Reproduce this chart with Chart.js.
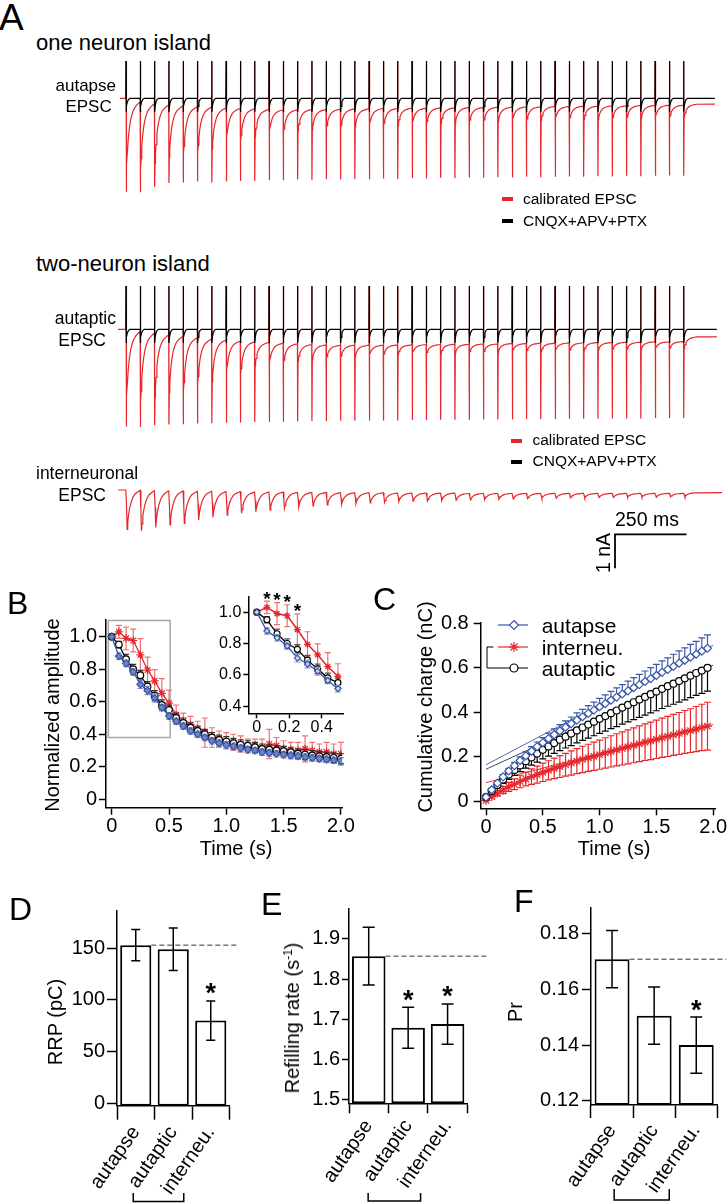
<!DOCTYPE html>
<html>
<head>
<meta charset="utf-8">
<title>Autaptic vs interneuronal EPSC trains</title>
<script src="https://cdn.jsdelivr.net/npm/chart.js@4.4.1/dist/chart.umd.min.js"></script>
<style>
  html, body { margin:0; padding:0; background:#fff; }
  body { position:relative; width:728px; height:1204px; overflow:hidden; font-family:"Liberation Sans", Arial, Helvetica, sans-serif; color:#000; }
  canvas { position:absolute; }
  .txt { position:absolute; white-space:nowrap; line-height:1; }
  .dash { position:absolute; }
</style>
</head>
<body>
<script>
// ======================= DATA =======================
// ---- Panel A: EPSC trains, 40 stimuli at 20 Hz (current in nA) ----
const stimIntervalMs = 50;
const scaleBarMs = 250;
const scaleBarNa = 1;

// one-neuron island, autapse
const autapseArtifactTop = 1.10;
const autapseBlackDip = -0.40;
const autapsePre = [0,-0.11,-0.17,-0.20,-0.23,-0.25,-0.26,-0.29,-0.30,-0.31,-0.33,-0.34,-0.34,-0.33,-0.33,-0.32,-0.31,-0.31,-0.30,-0.30,-0.29,-0.29,-0.28,-0.28,-0.27,-0.27,-0.26,-0.26,-0.25,-0.25,-0.24,-0.24,-0.23,-0.23,-0.22,-0.22,-0.21,-0.21,-0.20,-0.20,-0.17];
const autapseTrough = [-2.26,-2.06,-1.91,-1.72,-1.62,-1.57,-1.47,-1.26,-1.23,-1.13,-1.03,-0.99,-0.95,-0.92,-0.88,-0.86,-0.84,-0.82,-0.80,-0.79,-0.77,-0.75,-0.74,-0.72,-0.70,-0.69,-0.68,-0.67,-0.66,-0.64,-0.63,-0.62,-0.62,-0.61,-0.61,-0.60,-0.58,-0.57,-0.56,-0.55];
const autapseArtifactBottom = [-2.75,-2.76,-2.61,-2.49,-2.48,-2.45,-2.48,-2.45,-2.43,-2.43,-2.40,-2.41,-2.39,-2.40,-2.38,-2.39,-2.37,-2.38,-2.36,-2.37,-2.35,-2.36,-2.34,-2.35,-2.33,-2.34,-2.32,-2.33,-2.31,-2.32,-2.31,-2.30,-2.31,-2.29,-2.30,-2.28,-2.29,-2.28,-2.27,-2.28];

// two-neuron island, autaptic
const autapticArtifactTop = 1.27;
const autapticBlackDip = -0.40;
const autapticPre = [0,-0.07,-0.12,-0.17,-0.21,-0.25,-0.29,-0.32,-0.35,-0.37,-0.39,-0.41,-0.43,-0.45,-0.46,-0.47,-0.47,-0.47,-0.47,-0.46,-0.46,-0.45,-0.45,-0.44,-0.44,-0.43,-0.43,-0.42,-0.42,-0.41,-0.41,-0.40,-0.40,-0.39,-0.39,-0.38,-0.38,-0.37,-0.37,-0.36,-0.22];
const autapticTrough = [-2.28,-2.13,-2.00,-1.86,-1.80,-1.57,-1.54,-1.34,-1.29,-1.08,-1.03,-0.98,-0.94,-0.90,-0.86,-0.83,-0.80,-0.78,-0.76,-0.74,-0.73,-0.72,-0.71,-0.70,-0.69,-0.68,-0.67,-0.67,-0.66,-0.66,-0.65,-0.64,-0.63,-0.62,-0.61,-0.60,-0.59,-0.58,-0.57,-0.56];
const autapticArtifactBottom = [-2.86,-2.87,-2.82,-2.80,-2.79,-2.77,-2.76,-2.75,-2.74,-2.73,-2.72,-2.72,-2.71,-2.70,-2.70,-2.69,-2.69,-2.68,-2.68,-2.68,-2.67,-2.67,-2.66,-2.66,-2.66,-2.65,-2.65,-2.65,-2.64,-2.64,-2.64,-2.63,-2.63,-2.63,-2.62,-2.62,-2.62,-2.61,-2.61,-2.61];

// two-neuron island, interneuronal
const interPre = [0,-0.01,-0.02,-0.03,-0.03,-0.04,-0.04,-0.05,-0.05,-0.06,-0.06,-0.06,-0.07,-0.07,-0.07,-0.08,-0.08,-0.08,-0.08,-0.09,-0.09,-0.09,-0.09,-0.09,-0.10,-0.10,-0.10,-0.10,-0.10,-0.10,-0.10,-0.10,-0.10,-0.10,-0.10,-0.10,-0.10,-0.10,-0.10,-0.10,-0.08];
const interTrough = [-1.16,-1.20,-1.10,-1.03,-0.98,-0.88,-0.80,-0.74,-0.68,-0.64,-0.59,-0.54,-0.50,-0.47,-0.44,-0.42,-0.40,-0.38,-0.36,-0.34,-0.33,-0.32,-0.31,-0.30,-0.29,-0.28,-0.27,-0.26,-0.25,-0.24,-0.24,-0.23,-0.23,-0.22,-0.22,-0.21,-0.21,-0.21,-0.20,-0.20];

// EPSC waveform: [ms after stimulus, fraction of peak]
const epscDecayShape = [[1.5,1],[3,0.85],[5,0.68],[8,0.5],[12,0.35],[16,0.25],[20,0.18],[26,0.11],[32,0.07],[38,0.04],[44,0.015]];
const interEpscShape = [[2,0.45],[4,1],[6,0.82],[9,0.62],[13,0.45],[18,0.3],[24,0.18],[31,0.1],[39,0.05],[46,0.015]];
const blackDipShape = [[2,0.6],[5,0.25],[9,0.08],[14,0]];

// ---- Panel B: normalized amplitude ----
const bTimeStep = 0.0625;
const bAutapse   = [1.0,0.88,0.836,0.784,0.707,0.669,0.623,0.564,0.512,0.48,0.45,0.42,0.40,0.38,0.36,0.345,0.335,0.325,0.315,0.305,0.30,0.29,0.285,0.28,0.275,0.27,0.265,0.26,0.255,0.25,0.245,0.24,0.235];
const bAutapseErr = [0,0.02,0.02,0.02,0.025,0.025,0.025,0.02,0.02,0.02,0.02,0.02,0.02,0.02,0.02,0.02,0.02,0.02,0.02,0.02,0.02,0.02,0.02,0.02,0.02,0.02,0.02,0.02,0.02,0.02,0.02,0.02,0.02];
const bAutaptic  = [1.0,0.952,0.862,0.80,0.763,0.694,0.638,0.581,0.55,0.50,0.47,0.44,0.42,0.40,0.38,0.365,0.355,0.345,0.335,0.33,0.32,0.31,0.305,0.30,0.295,0.29,0.28,0.275,0.27,0.265,0.26,0.255,0.25];
const bAutapticErr = [0,0.02,0.03,0.03,0.03,0.03,0.03,0.03,0.03,0.03,0.03,0.03,0.03,0.03,0.03,0.03,0.03,0.03,0.03,0.03,0.03,0.03,0.03,0.03,0.03,0.03,0.03,0.03,0.03,0.03,0.03,0.03,0.03];
const bInterneu  = [1.0,1.03,0.99,0.977,0.889,0.795,0.728,0.652,0.591,0.52,0.48,0.46,0.43,0.41,0.38,0.37,0.36,0.35,0.34,0.33,0.33,0.32,0.34,0.33,0.31,0.30,0.30,0.31,0.30,0.29,0.29,0.28,0.28];
const bInterneuErr = [0,0.04,0.07,0.07,0.10,0.08,0.07,0.09,0.08,0.06,0.05,0.05,0.05,0.09,0.06,0.05,0.05,0.05,0.05,0.04,0.04,0.05,0.09,0.05,0.05,0.05,0.05,0.08,0.05,0.05,0.06,0.06,0.07];
const bInsetCount = 9;               // points shown in the inset (0-0.5 s)
const bInsetSignificant = [1,2,3,4]; // indices marked with *
const bZoomBoxTime = [-0.03, 0.51];
const bZoomBoxAmp = [0.38, 1.10];
const bXTicks = [0,0.5,1,1.5,2];       const bXTickLabels = ['0','0.5','1.0','1.5','2.0'];
const bYTicks = [0,0.2,0.4,0.6,0.8,1]; const bYTickLabels = ['0','0.2','0.4','0.6','0.8','1.0'];
const bInsetXTicks = [0,0.2,0.4];      const bInsetXTickLabels = ['0','0.2','0.4'];
const bInsetYTicks = [0.4,0.6,0.8,1];  const bInsetYTickLabels = ['0.4','0.6','0.8','1.0'];

// ---- Panel C: cumulative charge (nC) ----
const cTimeStep = 0.05;
const cAutapse  = [0.020,0.053,0.083,0.111,0.137,0.161,0.184,0.205,0.226,0.246,0.264,0.282,0.300,0.317,0.333,0.349,0.365,0.380,0.395,0.410,0.425,0.439,0.454,0.468,0.482,0.496,0.510,0.524,0.538,0.551,0.565,0.579,0.592,0.606,0.620,0.633,0.647,0.660,0.674,0.687];
const cAutapseErr = [0.002,0.005,0.007,0.010,0.012,0.014,0.016,0.018,0.020,0.021,0.023,0.025,0.026,0.028,0.029,0.030,0.032,0.033,0.035,0.036,0.037,0.039,0.040,0.041,0.042,0.044,0.045,0.046,0.047,0.049,0.050,0.051,0.052,0.054,0.055,0.056,0.057,0.058,0.059,0.060];
const cAutaptic = [0.020,0.048,0.074,0.099,0.121,0.142,0.162,0.181,0.198,0.215,0.232,0.247,0.262,0.277,0.291,0.305,0.319,0.332,0.345,0.358,0.371,0.383,0.396,0.408,0.421,0.433,0.445,0.457,0.469,0.481,0.493,0.505,0.517,0.528,0.540,0.552,0.564,0.576,0.587,0.599];
const cAutapticErr = [0.004,0.009,0.013,0.017,0.021,0.025,0.028,0.031,0.035,0.038,0.041,0.043,0.046,0.049,0.051,0.054,0.056,0.058,0.061,0.063,0.065,0.067,0.069,0.072,0.074,0.076,0.078,0.080,0.082,0.084,0.086,0.088,0.090,0.092,0.094,0.096,0.098,0.100,0.102,0.104];
const cInterneu = [0.005,0.022,0.038,0.052,0.066,0.078,0.090,0.101,0.112,0.121,0.131,0.140,0.149,0.157,0.165,0.173,0.181,0.189,0.196,0.203,0.210,0.218,0.225,0.232,0.238,0.245,0.252,0.259,0.266,0.272,0.279,0.286,0.292,0.299,0.305,0.312,0.318,0.325,0.332,0.338];
const cInterneuErr = [0.002,0.007,0.012,0.016,0.020,0.024,0.028,0.031,0.035,0.038,0.041,0.043,0.046,0.049,0.051,0.054,0.056,0.059,0.061,0.063,0.065,0.068,0.070,0.072,0.074,0.076,0.078,0.080,0.082,0.084,0.086,0.088,0.090,0.092,0.094,0.096,0.098,0.101,0.104,0.107];
const cFitIntercept = {autapse:0.165, autaptic:0.145, interneu:0.085};
const cFitSlope     = {autapse:0.268, autaptic:0.233, interneu:0.130};
const cXTicks = [0,0.5,1,1.5,2];       const cXTickLabels = ['0','0.5','1.0','1.5','2.0'];
const cYTicks = [0,0.2,0.4,0.6,0.8];   const cYTickLabels = ['0','0.2','0.4','0.6','0.8'];
const cLegendLabels = ['autapse','interneu.','autaptic'];

// ---- Panels D-F: bar summaries ----
const barCategories = ['autapse','autaptic','interneu.'];
const rrpValues = [153,149,80];          const rrpErr = [15,20.5,19];        const rrpSig = [false,false,true];
const refillValues = [1.857,1.679,1.688];const refillErr = [0.072,0.051,0.05];const refillSig = [false,true,true];
const prValues = [0.1709,0.1506,0.1400]; const prErr = [0.0103,0.0103,0.0101];const prSig = [false,false,true];
const rrpTicks = [0,50,100,150];          const rrpTickLabels = ['0','50','100','150'];
const refillTicks = [1.5,1.6,1.7,1.8,1.9];const refillTickLabels = ['1.5','1.6','1.7','1.8','1.9'];
const prTicks = [0.12,0.14,0.16,0.18];    const prTickLabels = ['0.12','0.14','0.16','0.18'];

// ======================= STYLE / LAYOUT =======================
const RED = '#e5262b', BLUE = '#3b58a8', BLACK = '#000';
const FONT = '"Liberation Sans", Arial, Helvetica, sans-serif';
Chart.defaults.font.family = FONT;
Chart.defaults.color = '#000';
const PX_PER_MS = 0.286, STIM0_X = 126, PX_PER_NA = 34;

function makeCanvas(id, left, top, w, h) {
  const c = document.createElement('canvas');
  c.id = id; c.width = w; c.height = h;
  c.style.left = left + 'px'; c.style.top = top + 'px';
  c.style.width = w + 'px'; c.style.height = h + 'px';
  document.body.appendChild(c);
  return c;
}
function xy(step, vals) { return vals.map((v, i) => ({x: i * step, y: v})); }

// ---- error bars ----
function drawErr(chart, meta, ds) {
  if (!ds.errUp && !ds.errDown) return;
  const ys = chart.scales[meta.yAxisID], ctx = chart.ctx;
  ctx.save();
  ctx.strokeStyle = ds.errColor || '#000';
  ctx.lineWidth = ds.errWidth || 1;
  meta.data.forEach((el, i) => {
    const raw = ds.data[i];
    const v = (raw !== null && typeof raw === 'object') ? raw.y : raw;
    const x = el.x, h = (ds.errCap || 6) / 2, y0 = ys.getPixelForValue(v);
    ctx.beginPath();
    if (ds.errUp && ds.errUp[i]) {
      const yt = ys.getPixelForValue(v + ds.errUp[i]);
      ctx.moveTo(x, y0); ctx.lineTo(x, yt); ctx.moveTo(x - h, yt); ctx.lineTo(x + h, yt);
    }
    if (ds.errDown && ds.errDown[i]) {
      const yb = ys.getPixelForValue(v - ds.errDown[i]);
      ctx.moveTo(x, y0); ctx.lineTo(x, yb); ctx.moveTo(x - h, yb); ctx.lineTo(x + h, yb);
    }
    ctx.stroke();
  });
  ctx.restore();
}
const errorBarPlugin = {
  id: 'errorBars',
  beforeDatasetDraw(chart, args) { const ds = chart.data.datasets[args.index]; if (!ds.errOnTop) drawErr(chart, args.meta, ds); },
  afterDatasetDraw(chart, args) { const ds = chart.data.datasets[args.index]; if (ds.errOnTop) drawErr(chart, args.meta, ds); }
};

function centeredStar(ctx, x, cy, font) {
  ctx.font = font;
  ctx.textAlign = 'center';
  ctx.textBaseline = 'alphabetic';
  const m = ctx.measureText('*');
  ctx.fillText('*', x, cy + (m.actualBoundingBoxAscent - m.actualBoundingBoxDescent) / 2);
}

function linAxis(o) {
  return {
    type: 'linear', min: o.min, max: o.max,
    afterBuildTicks: ax => { ax.ticks = o.ticks.map(v => ({value: v})); },
    afterFit: sc => { if (o.width !== undefined) sc.width = o.width; if (o.height !== undefined) sc.height = o.height; },
    ticks: {callback: (v, i) => o.labels[i], font: {size: o.fs, family: FONT}, color: '#000', padding: o.pad, autoSkip: false, maxRotation: 0, minRotation: 0},
    grid: {drawOnChartArea: false, drawTicks: true, tickLength: o.tl, tickWidth: 1.5, tickColor: '#000', color: '#000'},
    border: {display: true, color: '#000', width: 1.5}
  };
}
const baseOpts = {responsive: false, animation: false, events: [], plugins: {legend: {display: false}, tooltip: {enabled: false}}};

// ======================= PANEL A TRACES =======================
function buildRed(pre, trough, artBottom, artTop, shape, startMs, endMs) {
  const pts = [{x: startMs, y: pre[0]}];
  for (let i = 0; i < trough.length; i++) {
    const t = i * stimIntervalMs;
    pts.push({x: t - 0.6, y: pre[i]});
    if (artBottom) { pts.push({x: t, y: artTop}); pts.push({x: t + 0.3, y: artBottom[i]}); }
    for (const [dt, f] of shape) pts.push({x: t + dt, y: pre[i + 1] + (trough[i] - pre[i + 1]) * f});
  }
  pts.push({x: endMs, y: pre[pre.length - 1]});
  return pts;
}
function buildBlack(artTop, dip, n, startMs, endMs) {
  const pts = [{x: startMs, y: 0}];
  for (let i = 0; i < n; i++) {
    const t = i * stimIntervalMs;
    pts.push({x: t - 0.6, y: 0}, {x: t, y: artTop}, {x: t + 0.3, y: dip});
    for (const [dt, f] of blackDipShape) pts.push({x: t + dt, y: dip * f});
  }
  pts.push({x: endMs, y: 0});
  return pts;
}
function traceChart(id, left, top, w, h, baseY, datasets) {
  const c = makeCanvas(id, left, top, w, h);
  return new Chart(c, {
    type: 'line',
    data: {datasets},
    options: Object.assign({}, baseOpts, {
      layout: {padding: 0},
      elements: {point: {radius: 0}, line: {tension: 0}},
      scales: {
        x: {type: 'linear', display: false, min: (left - STIM0_X) / PX_PER_MS, max: (left + w - STIM0_X) / PX_PER_MS},
        y: {type: 'linear', display: false, min: (baseY - top - h) / PX_PER_NA, max: (baseY - top) / PX_PER_NA}
      }
    })
  });
}
const lineDs = (data, color, width, order) => ({data, borderColor: color, borderWidth: width, pointRadius: 0, fill: false, order});

traceChart('traceAutapse', 100, 55, 628, 145, 98.3, [
  lineDs(buildBlack(autapseArtifactTop, autapseBlackDip, autapseTrough.length, -0.6, 2059), BLACK, 1.2, 0),
  lineDs(buildRed(autapsePre, autapseTrough, autapseArtifactBottom, autapseArtifactTop, epscDecayShape, -21, 2059), RED, 1.2, 1)
]);
traceChart('traceAutaptic', 100, 278, 628, 160, 329.3, [
  lineDs(buildBlack(autapticArtifactTop, autapticBlackDip, autapticTrough.length, -0.6, 2066), BLACK, 1.2, 0),
  lineDs(buildRed(autapticPre, autapticTrough, autapticArtifactBottom, autapticArtifactTop, epscDecayShape, -28, 2066), RED, 1.2, 1)
]);
const sbT = (615 - STIM0_X) / PX_PER_MS, sbV = (490 - 534.3) / PX_PER_NA;
traceChart('traceInter', 100, 470, 628, 105, 490, [
  lineDs(buildRed(interPre, interTrough, null, 0, interEpscShape, -27, 2084), RED, 1.2, 1),
  lineDs([{x: sbT + scaleBarMs, y: sbV}, {x: sbT, y: sbV}, {x: sbT, y: sbV - scaleBarNa}], BLACK, 1.8, 0)
]);

// ======================= PANEL B =======================
const zoomBoxPlugin = {
  id: 'zoomBox',
  beforeDatasetsDraw(chart) {
    const xs = chart.scales.x, ys = chart.scales.y, ctx = chart.ctx;
    const x0 = xs.getPixelForValue(bZoomBoxTime[0]), x1 = xs.getPixelForValue(bZoomBoxTime[1]);
    const y0 = ys.getPixelForValue(bZoomBoxAmp[1]), y1 = ys.getPixelForValue(bZoomBoxAmp[0]);
    ctx.save(); ctx.strokeStyle = '#a8a8a8'; ctx.lineWidth = 1.5; ctx.strokeRect(x0, y0, x1 - x0, y1 - y0); ctx.restore();
  }
};
function bSeries(vals, err, color, errColor, style, radius, order, n, fill) {
  return {data: xy(bTimeStep, vals.slice(0, n)), borderColor: color, backgroundColor: fill, borderWidth: 1.3,
    pointStyle: style, pointRadius: radius, pointBorderWidth: 1.2, pointBorderColor: color, pointBackgroundColor: fill,
    errUp: err.slice(0, n), errDown: err.slice(0, n), errColor, errCap: 6, errWidth: 1.2, order};
}
new Chart(makeCanvas('chartB', 0, 585, 362, 265), {
  type: 'line',
  data: {datasets: [
    bSeries(bAutapse, bAutapseErr, BLUE, '#7d93cc', 'rectRot', 3.5, 0, bAutapse.length, '#6f84c6'),
    bSeries(bAutaptic, bAutapticErr, BLACK, '#333', 'circle', 3.3, 1, bAutaptic.length, '#fff'),
    bSeries(bInterneu, bInterneuErr, RED, '#f07070', 'star', 4, 2, bInterneu.length, '#fff')
  ]},
  options: Object.assign({}, baseOpts, {
    layout: {padding: {left: 0, top: 35, right: 19.9, bottom: 0}},
    scales: {
      x: linAxis({min: -0.05, max: 2.0105, ticks: bXTicks, labels: bXTickLabels, fs: 20, pad: 0, tl: 7, height: 42.3}),
      y: linAxis({min: -0.052, max: 1.103, ticks: bYTicks, labels: bYTickLabels, fs: 20, pad: 2, tl: 7, width: 106})
    }
  }),
  plugins: [errorBarPlugin, zoomBoxPlugin]
});

const insetStarPlugin = {
  id: 'insetStars',
  afterDatasetsDraw(chart) {
    const ctx = chart.ctx, xs = chart.scales.x, ys = chart.scales.y;
    ctx.save(); ctx.fillStyle = '#000';
    bInsetSignificant.forEach(i => {
      const top = ys.getPixelForValue(bInterneu[i] + bInterneuErr[i]);
      centeredStar(ctx, xs.getPixelForValue(i * bTimeStep), top - 6, 'bold 19px ' + FONT);
    });
    ctx.restore();
  }
};
new Chart(makeCanvas('chartBInset', 195, 585, 165, 160), {
  type: 'line',
  data: {datasets: [
    bSeries(bAutapse, bAutapseErr, BLUE, '#8a9dd2', 'rectRot', 3, 0, bInsetCount, '#c9d2ee'),
    bSeries(bAutaptic, bAutapticErr, BLACK, '#555', 'circle', 3, 1, bInsetCount, '#fff'),
    Object.assign(bSeries(bInterneu, bInterneuErr, RED, '#f07070', 'star', 3.5, 2, bInsetCount, '#fff'), {borderWidth: 1.5})
  ]},
  options: Object.assign({}, baseOpts, {
    layout: {padding: {left: 0, top: 10, right: 16.7, bottom: 0}},
    scales: {
      x: linAxis({min: -0.052, max: 0.533, ticks: bInsetXTicks, labels: bInsetXTickLabels, fs: 16, pad: 0, tl: 5, height: 31.7}),
      y: linAxis({min: 0.355, max: 1.099, ticks: bInsetYTicks, labels: bInsetYTickLabels, fs: 16, pad: 2, tl: 5, width: 53.3})
    }
  }),
  plugins: [errorBarPlugin, insetStarPlugin]
});

// ======================= PANEL C =======================
function drawMarker(ctx, style, x, y, r) {
  ctx.beginPath();
  if (style === 'rectRot') { ctx.moveTo(x, y - r); ctx.lineTo(x + r, y); ctx.lineTo(x, y + r); ctx.lineTo(x - r, y); ctx.closePath(); ctx.fill(); ctx.stroke(); }
  else if (style === 'circle') { ctx.arc(x, y, r, 0, Math.PI * 2); ctx.fill(); ctx.stroke(); }
  else { for (let k = 0; k < 4; k++) { const a = k * Math.PI / 4; ctx.moveTo(x - r * Math.cos(a), y - r * Math.sin(a)); ctx.lineTo(x + r * Math.cos(a), y + r * Math.sin(a)); } ctx.stroke(); }
}
const C_LEFT = 360, C_TOP = 585;
const cLegendPlugin = {
  id: 'cLegend',
  afterDraw(chart) {
    const ctx = chart.ctx;
    const rows = [
      {ds: 0, y: 625, x0: 498},
      {ds: 2, y: 647, x0: 498},
      {ds: 1, y: 668, x0: 493}
    ];
    ctx.save();
    rows.forEach(r => {
      const d = chart.data.datasets[r.ds];
      const y = r.y - C_TOP;
      ctx.strokeStyle = d.borderColor; ctx.fillStyle = '#fff'; ctx.lineWidth = 1.2;
      ctx.beginPath(); ctx.moveTo(r.x0 - C_LEFT, y); ctx.lineTo(528 - C_LEFT, y); ctx.stroke();
      drawMarker(ctx, d.pointStyle, 514 - C_LEFT, y, d.pointRadius + 0.5);
    });
    ctx.strokeStyle = '#000'; ctx.lineWidth = 1;
    ctx.beginPath();
    ctx.moveTo(493.5 - C_LEFT, 647 - C_TOP); ctx.lineTo(487 - C_LEFT, 647 - C_TOP);
    ctx.lineTo(487 - C_LEFT, 668 - C_TOP); ctx.lineTo(493 - C_LEFT, 668 - C_TOP);
    ctx.stroke();
    ctx.restore();
  }
};
function cSeries(vals, up, down, color, style, radius, order) {
  return {data: xy(cTimeStep, vals), borderColor: color, backgroundColor: '#fff', borderWidth: 1.2,
    pointStyle: style, pointRadius: radius, pointBorderWidth: 1.2, pointBorderColor: color, pointBackgroundColor: '#fff',
    errUp: up, errDown: down, errColor: color, errCap: 7, errWidth: 1.2, order};
}
function fitLine(key, color) {
  return {data: [{x: 0, y: cFitIntercept[key]}, {x: 2, y: cFitIntercept[key] + 2 * cFitSlope[key]}],
    borderColor: color, borderWidth: 0.9, pointRadius: 0, fill: false, order: 5};
}
new Chart(makeCanvas('chartC', C_LEFT, C_TOP, 380, 265), {
  type: 'line',
  data: {datasets: [
    cSeries(cAutapse, cAutapseErr, null, BLUE, 'rectRot', 4, 0),
    cSeries(cAutaptic, null, cAutapticErr, BLACK, 'circle', 3.5, 1),
    cSeries(cInterneu, cInterneuErr, cInterneuErr, RED, 'star', 4.5, 2),
    fitLine('autapse', BLUE), fitLine('autaptic', '#333'), fitLine('interneu', RED)
  ]},
  options: Object.assign({}, baseOpts, {
    layout: {padding: {left: 0, top: 38, right: 25, bottom: 0}},
    scales: {
      x: linAxis({min: -0.047, max: 2.016, ticks: cXTicks, labels: cXTickLabels, fs: 20, pad: 0, tl: 7, height: 41.7}),
      y: linAxis({min: -0.03, max: 0.8, ticks: cYTicks, labels: cYTickLabels, fs: 20, pad: 5, tl: 7, width: 120.7})
    }
  }),
  plugins: [errorBarPlugin, cLegendPlugin]
});

// ======================= PANELS D-F =======================
const barExtrasPlugin = {
  id: 'barExtras',
  afterDatasetsDraw(chart, args, o) {
    const ctx = chart.ctx, meta = chart.getDatasetMeta(0), ys = chart.scales.y, xs = chart.scales.x;
    const ds = chart.data.datasets[0];
    const b0 = meta.data[0], yRef = ys.getPixelForValue(ds.data[0]);
    ctx.save();
    ctx.strokeStyle = '#333'; ctx.lineWidth = 1; ctx.setLineDash([5, 3]);
    ctx.beginPath(); ctx.moveTo(b0.x + b0.width / 2, yRef); ctx.lineTo(chart.chartArea.right + o.refExtend, yRef); ctx.stroke();
    ctx.setLineDash([]);
    ctx.fillStyle = '#000';
    o.sig.forEach((s, i) => {
      if (!s) return;
      const top = ys.getPixelForValue(ds.data[i] + ds.errUp[i]);
      centeredStar(ctx, meta.data[i].x, top - o.starGap, 'bold 27px ' + FONT);
    });
    ctx.strokeStyle = '#000'; ctx.lineWidth = 1.5;
    const x1 = xs.getPixelForValue(1) + o.bracketDx[0], x2 = xs.getPixelForValue(2) + o.bracketDx[1];
    ctx.beginPath();
    ctx.moveTo(x1, o.bracketY[0]); ctx.lineTo(x1, o.bracketY[1]); ctx.lineTo(x2, o.bracketY[1]); ctx.lineTo(x2, o.bracketY[0]);
    ctx.stroke();
    ctx.restore();
  }
};
function barPanel(id, left, top, w, h, o) {
  const area = o.area; // [left, top, right, bottom] page coords
  return new Chart(makeCanvas(id, left, top, w, h), {
    type: 'bar',
    data: {labels: barCategories, datasets: [{
      data: o.values, base: o.yMin, backgroundColor: '#fff', borderColor: '#000', borderWidth: 2, borderSkipped: false,
      barPercentage: o.barPct, categoryPercentage: 1,
      errUp: o.err, errDown: o.err, errColor: '#000', errCap: o.cap, errWidth: 1.5, errOnTop: true
    }]},
    options: Object.assign({}, baseOpts, {
      layout: {padding: {left: 0, top: area[1] - top, right: left + w - area[2], bottom: 0}},
      scales: {
        x: {
          type: 'category', offset: true,
          afterFit: sc => { sc.height = top + h - area[3]; },
          ticks: {font: {size: 20, family: FONT}, color: '#000', minRotation: 55, maxRotation: 55, padding: o.xPad, autoSkip: false},
          grid: {offset: true, drawOnChartArea: false, drawTicks: true, tickLength: o.xTl, tickWidth: 1.5, tickColor: '#000', color: '#000'},
          border: {display: true, color: '#000', width: 1.5}
        },
        y: linAxis({min: o.yMin, max: o.yMax, ticks: o.ticks, labels: o.labels, fs: 20, pad: o.yPad, tl: o.yTl, width: area[0] - left})
      },
      plugins: Object.assign({}, baseOpts.plugins, {barExtras: {
        sig: o.sig, starGap: 12, refExtend: o.refExtend,
        bracketDx: [-40, -27], bracketY: [o.bracketY[0] - top, o.bracketY[1] - top]
      }})
    }),
    plugins: [errorBarPlugin, barExtrasPlugin]
  });
}
barPanel('chartD', 0, 880, 245, 324, {
  area: [117, 910.7, 229.5, 1105.7], values: rrpValues, err: rrpErr, sig: rrpSig,
  yMin: -2.3, yMax: 186.3, ticks: rrpTicks, labels: rrpTickLabels, yTl: 10, yPad: 2,
  barPct: 0.83, cap: 9, xTl: 14, xPad: 2, refExtend: 7, bracketY: [1193, 1201.5]
});
barPanel('chartE', 245, 880, 245, 324, {
  area: [349, 908.3, 467.3, 1103.3], values: refillValues, err: refillErr, sig: refillSig,
  yMin: 1.491, yMax: 1.976, ticks: refillTicks, labels: refillTickLabels, yTl: 7, yPad: 2,
  barPct: 0.85, cap: 12, xTl: 10, xPad: 2, refExtend: 19, bracketY: [1193, 1201]
});
barPanel('chartF', 490, 880, 250, 324, {
  area: [591, 908, 717.3, 1105], values: prValues, err: prErr, sig: prSig,
  yMin: 0.11845, yMax: 0.18932, ticks: prTicks, labels: prTickLabels, yTl: 9, yPad: 3,
  barPct: 0.83, cap: 12, xTl: 13, xPad: 2, refExtend: 9, bracketY: [1189, 1200]
});

// ======================= TEXT =======================
function addText(html, x, baseline, fs, align, weight) {
  const d = document.createElement('div');
  d.className = 'txt'; d.innerHTML = html;
  d.style.fontSize = fs + 'px';
  if (weight) d.style.fontWeight = weight;
  d.style.left = x + 'px'; d.style.top = (baseline - 0.8465 * fs) + 'px';
  if (align === 'right') d.style.transform = 'translateX(-100%)';
  else if (align === 'center') d.style.transform = 'translateX(-50%)';
  document.body.appendChild(d);
  return d;
}
function addVText(html, cx, cy, fs) {
  const d = document.createElement('div');
  d.className = 'txt'; d.innerHTML = html;
  d.style.fontSize = fs + 'px';
  d.style.left = cx + 'px'; d.style.top = cy + 'px';
  d.style.transform = 'translate(-50%,-50%) rotate(-90deg)';
  document.body.appendChild(d);
  return d;
}
function addDash(x, y, w, h, color) {
  const d = document.createElement('div');
  d.className = 'dash';
  Object.assign(d.style, {left: x + 'px', top: y + 'px', width: w + 'px', height: h + 'px', background: color});
  document.body.appendChild(d);
}
// panel A
addText('A', -1, 30, 37);
addText('one neuron island', 36, 50.5, 22);
addText('autapse', 116, 91, 17, 'right');
addText('EPSC', 111.7, 112.3, 17, 'right');
addDash(502, 197, 11, 4, RED);   addText('calibrated EPSC', 523, 204, 15.5);
addDash(502, 219, 11, 4, BLACK); addText('CNQX+APV+PTX', 523, 226.5, 15.5);
addText('two-neuron island', 36, 272, 22);
addText('autaptic', 116, 325, 17.5, 'right');
addText('EPSC', 106, 346.5, 17.5, 'right');
addDash(511, 438.5, 11, 4, RED);   addText('calibrated EPSC', 532.5, 445.5, 15.5);
addDash(511, 459.5, 11, 4, BLACK); addText('CNQX+APV+PTX', 532.5, 466.5, 15.5);
addText('interneuronal', 36, 480, 17.5);
addText('EPSC', 106, 501.5, 17.5, 'right');
addText('250 ms', 615, 526.5, 19.5);
addVText('1 nA', 604, 553, 19.5);
// panel B, C
addText('B', 7, 613.6, 32);
addText('C', 373, 610, 32);
addVText('Normalized amplitude', 52, 715, 20);
addText('Time (s)', 236, 855, 20, 'center');
addVText('Cumulative charge (nC)', 425, 707, 20);
addText('Time (s)', 614, 855, 20, 'center');
addText(cLegendLabels[0], 541.7, 632.5, 21);
addText(cLegendLabels[1], 541.7, 654.5, 21);
addText(cLegendLabels[2], 541.7, 675.5, 21);
// panels D-F
addText('D', 9, 920, 32);
addText('E', 261, 915, 32);
addText('F', 514, 912, 32);
addVText('RRP (pC)', 55, 1021.7, 20);
addVText('Refilling rate (s<sup style="font-size:0.6em;vertical-align:0.6em;line-height:0">-1</sup>)', 291.7, 1018, 20);
addVText('Pr', 515, 1011.7, 20);
</script>
</body>
</html>
